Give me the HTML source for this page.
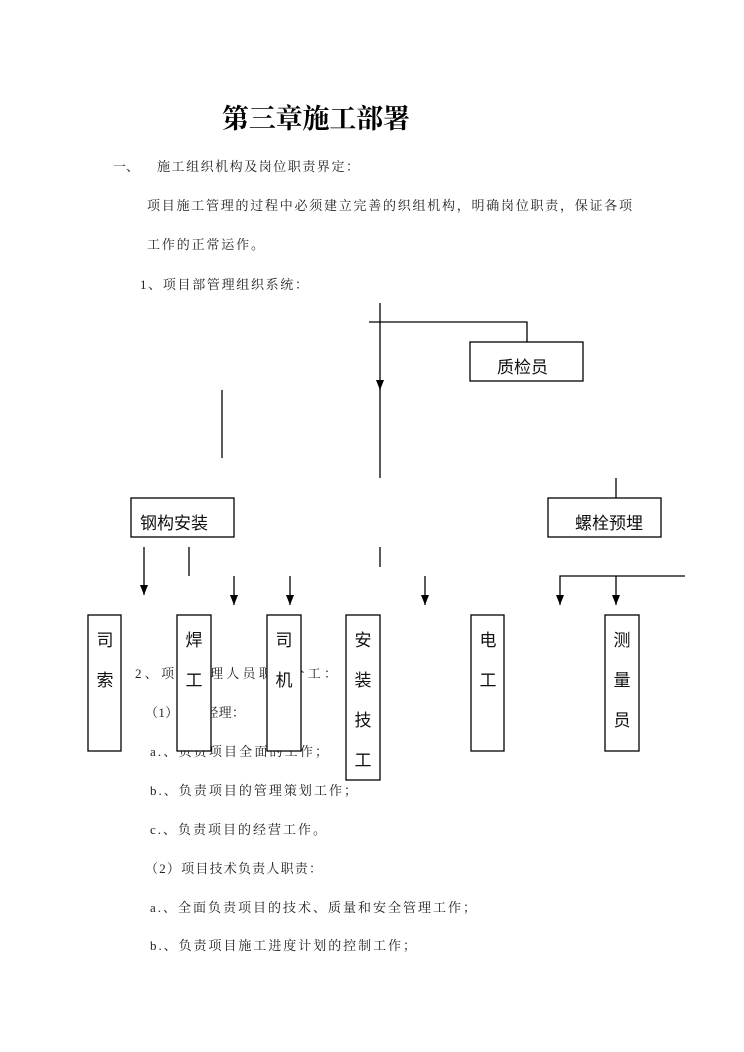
<!DOCTYPE html>
<html><head><meta charset="utf-8"><style>
html,body{margin:0;padding:0;background:#fff}
svg{display:block}
.t{font-family:"Liberation Serif","Noto Serif CJK SC",serif;font-size:13px;fill:#222}
.b{font-family:"Liberation Sans","Noto Sans CJK SC",sans-serif;font-size:17px;fill:#111}
</style></head><body>
<svg width="744" height="1052" viewBox="0 0 744 1052" xmlns="http://www.w3.org/2000/svg">
<defs><marker id="a" markerWidth="10" markerHeight="8" refX="10" refY="4" orient="auto" markerUnits="userSpaceOnUse"><path d="M0,0 L10,4 L0,8 Z" fill="#000"/></marker></defs>
<text x="222" y="128" font-family="'Noto Serif CJK SC',serif" font-weight="bold" font-size="27" textLength="188" fill="#000">第三章施工部署</text>
<text class="t" x="113" y="171">一、</text>
<text class="t" x="157" y="171" textLength="202">施工组织机构及岗位职责界定：</text>
<text class="t" x="147" y="210" textLength="485">项目施工管理的过程中必须建立完善的织组机构，明确岗位职责，保证各项</text>
<text class="t" x="147" y="249" textLength="117">工作的正常运作。</text>
<text class="t" x="140" y="289" textLength="168">1、项目部管理组织系统：</text>
<text class="t" x="135" y="678" textLength="202">2、项目管理人员职责分工：</text>
<text class="t" x="145" y="717" textLength="100">（1）项目经理：</text>
<text class="t" x="150" y="756" textLength="178">a.、负责项目全面的工作；</text>
<text class="t" x="150" y="795" textLength="207">b.、负责项目的管理策划工作；</text>
<text class="t" x="150" y="834" textLength="176">c.、负责项目的经营工作。</text>
<text class="t" x="145" y="873" textLength="177">（2）项目技术负责人职责：</text>
<text class="t" x="150" y="912" textLength="326">a.、全面负责项目的技术、质量和安全管理工作；</text>
<text class="t" x="150" y="950" textLength="266">b.、负责项目施工进度计划的控制工作；</text>
<g stroke="#000" stroke-width="1.3" fill="none">
<line x1="380" y1="303" x2="380" y2="390" marker-end="url(#a)"/>
<line x1="380" y1="388" x2="380" y2="478"/>
<polyline points="369,322 527,322 527,342"/>
<line x1="222" y1="390" x2="222" y2="458"/>
<line x1="616" y1="478" x2="616" y2="498"/>
<line x1="380" y1="547" x2="380" y2="567"/>
<line x1="189" y1="547" x2="189" y2="576"/>
<line x1="144" y1="547" x2="144" y2="595" marker-end="url(#a)"/>
<line x1="234" y1="576" x2="234" y2="605" marker-end="url(#a)"/>
<line x1="290" y1="576" x2="290" y2="605" marker-end="url(#a)"/>
<line x1="425" y1="576" x2="425" y2="605" marker-end="url(#a)"/>
<polyline points="685,576 560,576 560,605" marker-end="url(#a)"/>
<line x1="616" y1="576" x2="616" y2="605" marker-end="url(#a)"/>
</g>
<g stroke="#000" stroke-width="1.3" fill="#fff">
<rect x="470" y="342" width="113" height="39"/>
<rect x="131" y="498" width="103" height="39"/>
<rect x="548" y="498" width="113" height="39"/>
<rect x="88" y="615" width="33" height="136"/>
<rect x="177" y="615" width="34" height="136"/>
<rect x="267" y="615" width="34" height="136"/>
<rect x="346" y="615" width="34" height="165"/>
<rect x="471" y="615" width="33" height="136"/>
<rect x="605" y="615" width="34" height="136"/>
</g>
<text class="b" x="497" y="373">质检员</text>
<text class="b" x="140" y="529">钢构安装</text>
<text class="b" x="575" y="529">螺栓预埋</text>
<g class="b" text-anchor="middle">
<text class="b" x="105" y="646">司</text><text class="b" x="105" y="686">索</text>
<text class="b" x="194" y="646">焊</text><text class="b" x="194" y="686">工</text>
<text class="b" x="284" y="646">司</text><text class="b" x="284" y="686">机</text>
<text class="b" x="363" y="646">安</text><text class="b" x="363" y="686">装</text><text class="b" x="363" y="726">技</text><text class="b" x="363" y="766">工</text>
<text class="b" x="488" y="646">电</text><text class="b" x="488" y="686">工</text>
<text class="b" x="622" y="646">测</text><text class="b" x="622" y="686">量</text><text class="b" x="622" y="726">员</text>
</g>
</svg>
</body></html>
